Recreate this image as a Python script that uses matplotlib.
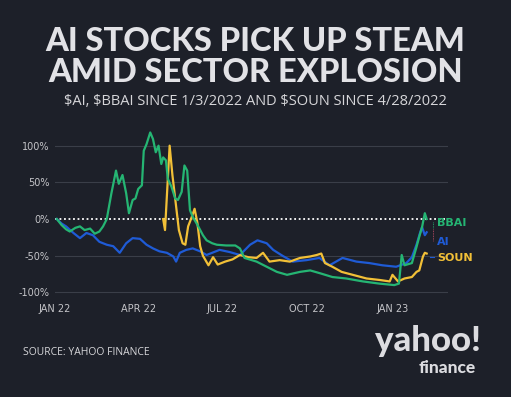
import pandas as pd
import numpy as np
import matplotlib.pyplot as plt
import matplotlib.dates as mdates

# day offsets from 1/3/2022 and % change
start = pd.Timestamp('2022-01-03')

bbai_day = [0, 5, 10, 14, 20, 25, 30, 36, 41, 46, 50, 54, 59, 64, 67, 71, 75, 78, 82, 85,
            88, 92, 94, 97, 101, 104, 107, 110, 113, 115, 118, 120, 124, 128, 131, 135, 138,
            141, 144, 147, 153, 158, 162, 168, 173, 183, 193, 198, 203, 216, 227, 238, 249,
            263, 274, 285, 298, 313, 331, 349, 365, 370, 373, 376, 384, 389, 392, 395, 398, 400]
bbai_val = [0, -8, -14, -17, -12, -10, -15, -13, -20, -17, -10, 0, 35, 66, 48, 60, 35, 8, 26, 28,
            41, 46, 93, 102, 118, 109, 91, 100, 75, 84, 80, 55, 44, 28, 26, 37, 73,
            66, 12, 3, -10, -22, -29, -33, -35, -36, -36, -40, -53, -58, -65, -72, -76,
            -72, -70, -74, -79, -81, -85, -88, -90, -88, -49, -63, -60, -38, -24, -11, 8, 0]

ai_day = [0, 5, 10, 18, 25, 32, 39, 46, 54, 61, 68, 75, 82, 90, 97, 104, 111, 119, 126, 129,
          133, 140, 147, 155, 162, 176, 187, 198, 209, 217, 227, 234, 244, 255, 270, 284, 295,
          309, 324, 338, 352, 367, 378, 384, 389, 393, 395, 398, 400]
ai_val = [0, -6, -10, -19, -26, -19, -22, -31, -35, -37, -46, -33, -26, -27, -35, -40, -44, -46, -51, -58,
          -46, -42, -40, -44, -49, -42, -45, -49, -35, -29, -33, -42, -50, -58, -56, -53, -63,
          -53, -58, -60, -63, -65, -60, -52, -35, -18, -11, -22, -18]

soun_day = [115, 117, 122, 125, 128, 132, 136, 139, 142, 146, 149, 152, 155, 158, 164, 169, 174,
            182, 190, 198, 207, 216, 223, 230, 241, 252, 263, 274, 281, 286, 290, 298, 308, 320,
            335, 349, 360, 363, 369, 376, 384, 389, 392, 396, 398, 400]
soun_val = [0, -15, 100, 60, 28, -15, -33, -35, -10, 3, 14, -5, -37, -50, -63, -52, -62,
            -58, -55, -49, -52, -53, -46, -58, -56, -58, -53, -51, -49, -47, -60, -65, -72, -76,
            -81, -83, -85, -76, -85, -81, -79, -72, -70, -51, -46, -47]

tick_dates = ['2022-01-01', '2022-04-01', '2022-07-01', '2022-10-01', '2023-01-01']
tick_labels = ['JAN 22', 'APR 22', 'JUL 22', 'OCT 22', 'JAN 23']

bg = '#1d2029'
green = '#25b573'
blue = '#1f5bd6'
yellow = '#f2c037'
text_col = '#d6d6d9'

def to_dates(days):
    return start + pd.to_timedelta(days, unit='D')

fig = plt.figure(figsize=(5.11, 3.97), dpi=100, facecolor=bg)
ax = fig.add_axes([0.1076, 0.2597, 0.769, 0.4196])
ax.set_facecolor(bg)

for v in [100, 50, -50, -100]:
    ax.axhline(v, color='#3a3e48', lw=0.8, zorder=1)
ax.axhline(0, color='white', lw=1.3, ls=(0, (1, 1.5)), zorder=2)

ax.plot(to_dates(ai_day), ai_val, color=blue, lw=1.6, zorder=3)
ax.plot(to_dates(soun_day), soun_val, color=yellow, lw=1.6, zorder=4)
ax.plot(to_dates(bbai_day), bbai_val, color=green, lw=1.6, zorder=5)

ax.set_xlim(start - pd.Timedelta(days=2), start + pd.Timedelta(days=423))
ax.set_ylim(-102, 125)
ax.set_yticks([100, 50, 0, -50, -100])
ax.set_yticklabels(['100%', '50%', '0%', '-50%', '-100%'])
ax.set_xticks(pd.to_datetime(tick_dates))
ax.set_xticklabels(tick_labels)
ax.tick_params(axis='y', colors='#c4c4c8', labelsize=7, length=0, pad=4)
ax.tick_params(axis='x', colors='#c4c4c8', labelsize=7, length=0, pad=7)
for s in ax.spines.values():
    s.set_visible(False)

# end labels
end = to_dates([400])[0]
lab_font = dict(fontsize=8, fontweight='bold', va='center', ha='left', family='Liberation Sans Narrow')
ax.text(end + pd.Timedelta(days=11), -6, 'BBAI', color=green, **lab_font)
ax.text(end + pd.Timedelta(days=11), -31, 'AI', color=blue, **lab_font)
ax.text(end + pd.Timedelta(days=11), -53, 'SOUN', color=yellow, **lab_font)
ax.plot([end + pd.Timedelta(days=7)] * 2, [-4, -12], color=green, lw=0.6, ls=(0, (1, 1)))
ax.plot([end + pd.Timedelta(days=7)] * 2, [-14, -30], color='#c8506a', lw=0.6, ls=(0, (1, 1)))
ax.plot([end + pd.Timedelta(days=4), end + pd.Timedelta(days=8)], [-52, -52], color=blue, lw=0.8)

fig.text(0.5, 0.895, 'AI STOCKS PICK UP STEAM', ha='center', va='center', color='#e2e2e6',
         fontsize=23.5, fontweight='black', family='Lato')
fig.text(0.5, 0.818, 'AMID SECTOR EXPLOSION', ha='center', va='center', color='#e2e2e6',
         fontsize=23.5, fontweight='black', family='Lato')
fig.text(0.5, 0.745, '$AI, $BBAI SINCE 1/3/2022 AND $SOUN SINCE 4/28/2022', ha='center',
         va='center', color=text_col, fontsize=10.5, family='Open Sans')
fig.text(0.045, 0.113, 'SOURCE: YAHOO FINANCE', ha='left', va='center', color=text_col,
         fontsize=7.5, family='Open Sans')
fig.text(0.838, 0.14, 'yahoo!', ha='center', va='center', color='#dcdce0',
         fontsize=25, fontweight='black', family='Lato')
fig.text(0.876, 0.072, 'finance', ha='center', va='center', color='#dcdce0',
         fontsize=12.5, fontweight='black', family='Lato')

fig.savefig('out.png', dpi=100, facecolor=bg)
